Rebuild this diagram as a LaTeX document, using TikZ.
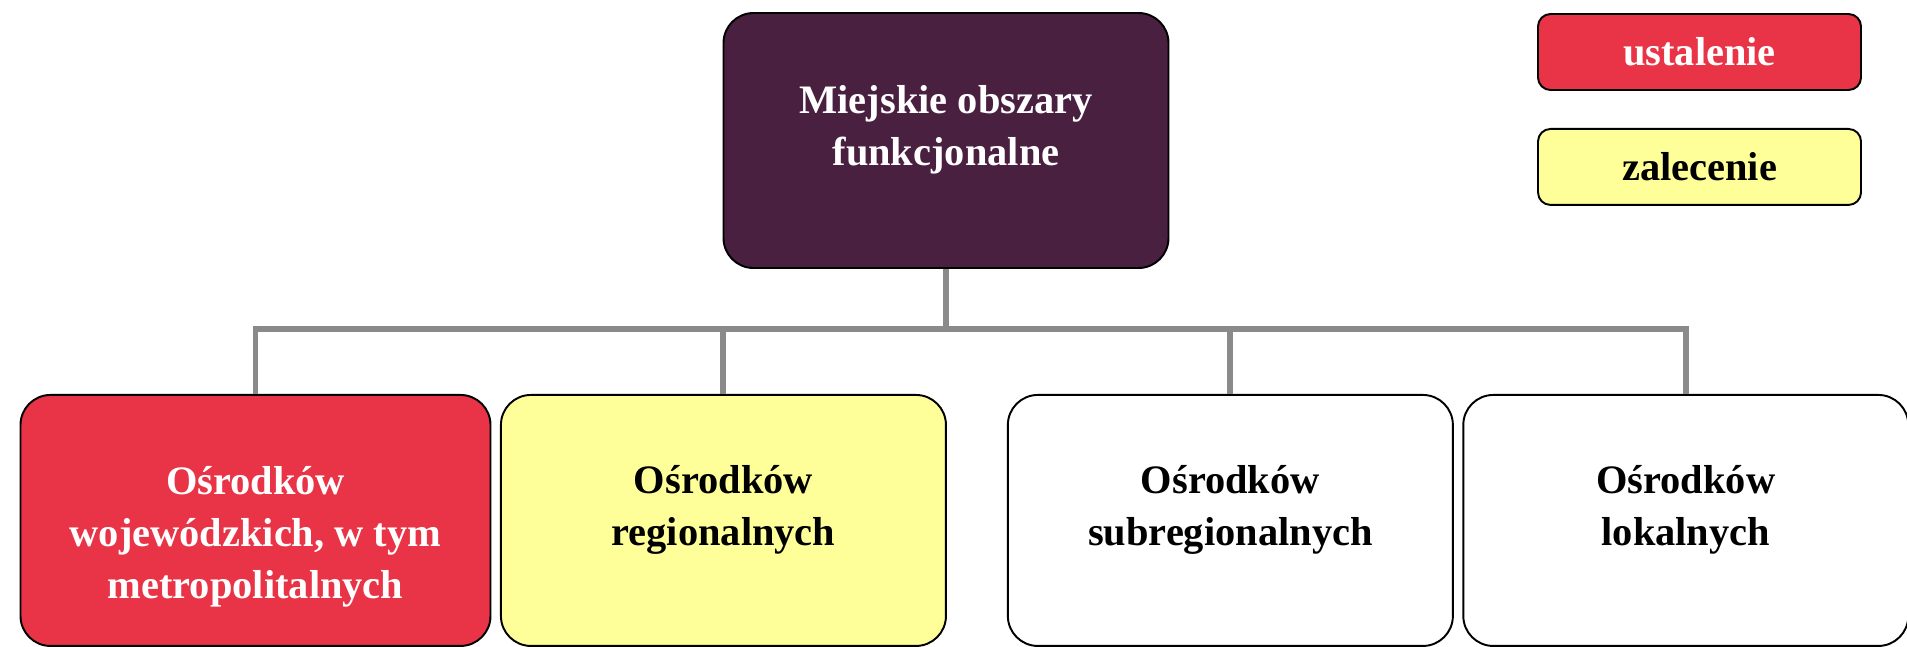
\documentclass[tikz,border=0pt]{standalone}
\usepackage{fontspec}
\setmainfont{Liberation Serif}
\usepackage{tikz}
\usetikzlibrary{positioning, calc}

\definecolor{plum}{HTML}{4A2040}
\definecolor{redbox}{HTML}{E83446}
\definecolor{yellowbox}{HTML}{FFFF99}
\definecolor{linegray}{HTML}{8A8A8A}

\begin{document}
\begin{tikzpicture}[
        box/.style={rectangle, draw=black, line width=1.1pt, rounded corners=0.6cm, align=center, minimum height=5.02cm, minimum width=8.9cm, font=\bfseries\fontsize{23}{29.6}\selectfont},
        legend/.style={rectangle, draw=black, line width=1.1pt, rounded corners=0.25cm, minimum height=1.52cm, minimum width=6.46cm, font=\bfseries\fontsize{23}{29.6}\selectfont},
        conn/.style={draw=linegray, line width=3.4pt}
    ]
        \useasboundingbox (0,0) rectangle (38.14,-12.92);

        % Top box
        \node[box, fill=plum, text=white, minimum height=5.1cm] (mof) at (18.92,-2.81) {Miejskie obszary\\funkcjonalne\\[-0.44cm]};

        % Bottom row
        \node[box, fill=redbox, text=white, minimum width=9.4cm, below=2.5cm of mof, xshift=-13.81cm] (woj) {Ośrodków\\wojewódzkich, w tym\\metropolitalnych\\[-1.54cm]};
        \node[box, fill=yellowbox, right=0.17cm of woj] (reg) {Ośrodków\\regionalnych\\[-0.45cm]};
        \node[box, fill=white, right=1.2cm of reg] (subreg) {Ośrodków\\subregionalnych\\[-0.45cm]};
        \node[box, fill=white, right=0.17cm of subreg] (lok) {Ośrodków\\lokalnych\\[-0.45cm]};

        % Legend
        \node[legend, fill=redbox, text=white] (ust) at (33.99,-1.04) {ustalenie};
        \node[legend, fill=yellowbox, below=0.74cm of ust] (zal) {zalecenie};

        % Connections
        \draw[conn] (mof.south) -- ++(0,-1.2) coordinate (bus);
        \foreach \b in {woj, reg, subreg, lok}
            \draw[conn] (bus) -| (\b.north);
    \end{tikzpicture}
\end{document}
